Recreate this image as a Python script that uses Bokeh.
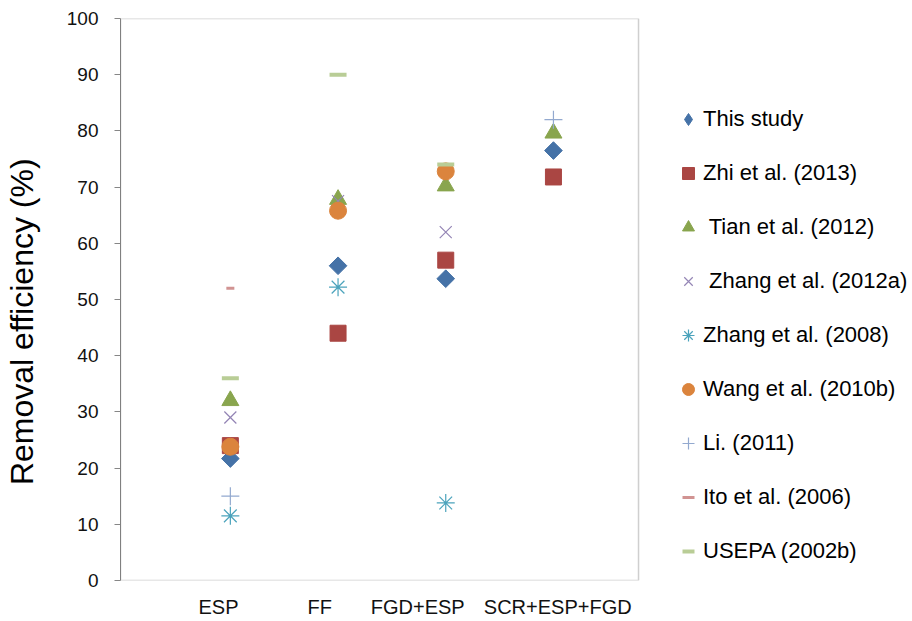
import math
from bokeh.plotting import figure
from bokeh.models import Range1d, Legend, LegendItem, FixedTicker, BoxAnnotation
from bokeh.embed import file_html
from bokeh.resources import INLINE

nan = float("nan")
categories = ["ESP", "FF", "FGD+ESP", "SCR+ESP+FGD"]
cat_x = [1, 2, 3, 4]
label_x = [0.89, 1.83, 2.74, 4.04]   # where the category labels sit under the box

this_study = [21.7, 56.0, 53.7, 76.5]
zhi_2013 = [24.0, 44.0, 57.0, 71.8]
tian_2012 = [32.0, 67.8, 70.2, 79.6]
zhang_2012a = [29.0, 67.5, 62.0, nan]
zhang_2008 = [11.5, 52.2, 13.8, nan]
wang_2010b = [23.8, 65.8, 72.8, nan]
li_2011 = [15.0, nan, nan, 82.0]
ito_2006 = [52.0, nan, nan, nan]
usepa_2002b = [36.0, 90.0, 74.0, nan]
y_ticks = [0, 10, 20, 30, 40, 50, 60, 70, 80, 90, 100]

FONT = "Liberation Sans"
X_LO, X_HI = -0.02, 4.79      # visible plot box
X_FRAME_HI = 7.334            # frame continues under the legend

p = figure(width=912, height=621, output_backend="svg", toolbar_location=None,
           x_range=Range1d(X_LO, X_FRAME_HI), y_range=Range1d(0, 100),
           min_border_left=120, min_border_top=18, min_border_bottom=41,
           min_border_right=0)
p.background_fill_color = "white"
p.border_fill_color = "white"
p.outline_line_color = None
p.xgrid.visible = False
p.ygrid.visible = False

box = BoxAnnotation(left=X_LO, right=X_HI, bottom=0, top=100,
                    fill_alpha=0, line_color="#5f5f5f", line_width=1.5)
p.add_layout(box)

# y axis
ya = p.yaxis[0]
ya.ticker = FixedTicker(ticks=y_ticks)
ya.minor_tick_line_color = None
ya.major_tick_out = 6
ya.major_tick_in = 0
ya.major_tick_line_color = "#868686"
ya.axis_line_color = "#868686"
ya.major_label_text_font = FONT
ya.major_label_text_font_size = "19px"
ya.major_label_text_color = "#111111"
ya.major_label_standoff = 16
# trailing no-break spaces shift the centred label down, as in the original
ya.axis_label = "Removal efficiency  (%)" + "\u00a0" * 4
ya.axis_label_text_font = FONT
ya.axis_label_text_font_size = "32px"
ya.axis_label_text_font_style = "normal"
ya.axis_label_text_color = "#000000"
ya.axis_label_standoff = 24

# x axis
xa = p.xaxis[0]
xa.ticker = FixedTicker(ticks=label_x)
xa.major_label_overrides = {x: c for x, c in zip(label_x, categories)}
xa.major_tick_line_color = None
xa.major_tick_out = 0
xa.major_tick_in = 0
xa.minor_tick_line_color = None
xa.axis_line_color = None
xa.major_label_text_font = FONT
xa.major_label_text_font_size = "20px"
xa.major_label_text_color = "#111111"
xa.major_label_standoff = 15

series = [
    ("This study", this_study, dict(marker="square", angle=math.pi / 4, size=12.5,
                                    fill_color="#4572A7", line_color="#4572A7")),
    ("Zhi et al. (2013)", zhi_2013, dict(marker="square", size=16,
                                          fill_color="#AA4643", line_color="#AA4643")),
    (" Tian et al. (2012)", tian_2012, dict(marker="triangle", size=17,
                                            fill_color="#89A54E", line_color="#89A54E")),
    (" Zhang et al. (2012a)", zhang_2012a, dict(marker="x", size=17, line_width=1.2,
                                                line_color="#9485B5")),
    ("Zhang et al. (2008)", zhang_2008, dict(marker="asterisk", size=18, line_width=1.2,
                                             line_color="#4BA3BC")),
    ("Wang et al. (2010b)", wang_2010b, dict(marker="circle", size=17,
                                             fill_color="#DB843D", line_color="#DB843D")),
    ("Li. (2011)", li_2011, dict(marker="cross", size=18, line_width=1.2,
                                 line_color="#93A9CF")),
    ("Ito et al. (2006)", ito_2006, dict(marker="dash", size=8, line_width=3,
                                         line_color="#D19392")),
    ("USEPA (2002b)", usepa_2002b, dict(marker="dash", size=17, line_width=4,
                                        line_color="#B9CD96")),
]

items = []
for i, (name, vals, style) in enumerate(series):
    if i == 0:
        # diamond drawn beneath the rotated square: gives the legend a diamond swatch
        r_leg = p.scatter(x=cat_x, y=vals, marker="diamond", size=12,
                          fill_color="#4572A7", line_color="#4572A7")
        p.scatter(x=cat_x, y=vals, **style)
        items.append(LegendItem(label=name, renderers=[r_leg]))
    else:
        r = p.scatter(x=cat_x, y=vals, **style)
        items.append(LegendItem(label=name, renderers=[r]))

legend = Legend(items=items, location=(553, 14), orientation="vertical",
                glyph_width=30, glyph_height=30, label_height=30, spacing=24,
                padding=0, margin=0, label_standoff=-4,
                label_text_font=FONT, label_text_font_size="22px",
                label_text_color="#000000",
                border_line_color=None, background_fill_alpha=0)
p.add_layout(legend, "center")

open("out.html", "w").write(file_html(p, INLINE))
